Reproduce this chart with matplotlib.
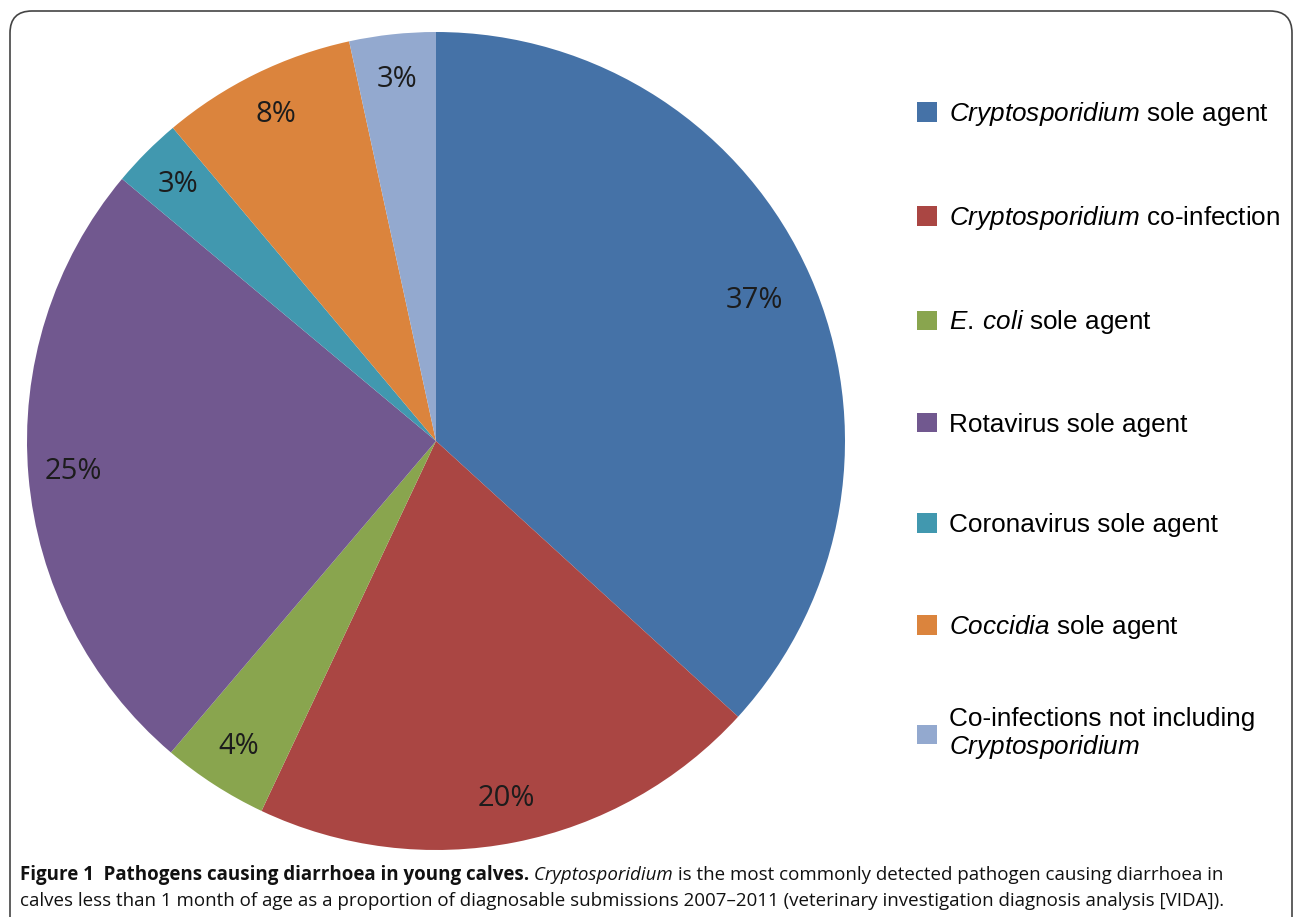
import matplotlib
matplotlib.use("Agg")
import matplotlib.pyplot as plt
import numpy as np
from matplotlib.patches import FancyBboxPatch

plt.rcParams['mathtext.fontset'] = 'custom'
plt.rcParams['mathtext.rm'] = 'Liberation Sans'
plt.rcParams['mathtext.it'] = 'Liberation Sans:italic'

# share of diagnosable submissions (%)
labels = [r'$\it{Cryptosporidium}$ sole agent',
          r'$\it{Cryptosporidium}$ co-infection',
          r'$\it{E.\:coli}$ sole agent',
          'Rotavirus sole agent',
          'Coronavirus sole agent',
          r'$\it{Coccidia}$ sole agent',
          'Co-infections not including\n' + r'$\it{Cryptosporidium}$']
values = [36.7, 20.2, 4.2, 24.8, 2.8, 7.7, 3.4]
colors = ['#4572A7', '#AA4643', '#89A54E', '#71588F', '#4198AF', '#DB843D', '#93A9CF']

caption1 = [('Figure 1  Pathogens causing diarrhoea in young calves.', 'bold', 'normal'),
            (' Cryptosporidium', 'normal', 'italic'),
            (' is the most commonly detected pathogen causing diarrhoea in', 'normal', 'normal')]
caption2 = [('calves less than 1 month of age as a proportion of diagnosable submissions '
             '2007\u20132011 (veterinary investigation diagnosis analysis [VIDA]).', 'normal', 'normal')]

W, H = 1293, 917
fig = plt.figure(figsize=(W / 100, H / 100), dpi=100)

# rounded frame, open at the bottom
frame = FancyBboxPatch((0.10, -1.0), 12.82, 10.06,
                       boxstyle='round,pad=0,rounding_size=0.22',
                       transform=fig.dpi_scale_trans, fill=False,
                       edgecolor='#444444', linewidth=1.2)
fig.patches.append(frame)

cx, cy, r = 436, 441, 409
ax = fig.add_axes([(cx - r) / W, (H - cy - r) / H, 2 * r / W, 2 * r / H])
wedges, texts, autotexts = ax.pie(values, colors=colors, startangle=90, counterclock=False,
                                  autopct='%.0f%%', pctdistance=0.89, radius=1,
                                  wedgeprops=dict(linewidth=0),
                                  textprops=dict(fontsize=21, color='#1c1c1c', family='Open Sans'))
# the big slice label sits a bit further in
th = np.deg2rad((wedges[0].theta1 + wedges[0].theta2) / 2)
autotexts[0].set_position((0.85 * np.cos(th), 0.85 * np.sin(th)))
ax.set_xlim(-1, 1)
ax.set_ylim(-1, 1)
ax.set_aspect('equal')
ax.axis('off')

legkw = dict(frameon=False, prop=dict(family='Liberation Sans', size=18.8),
             handlelength=0.77, handleheight=0.77, handletextpad=0.45,
             labelspacing=2.92, borderaxespad=0, borderpad=0)
# single-line entries, then the two-line one kept on the same pitch
fig.legend(wedges[:6], labels[:6], loc='upper left',
           bbox_to_anchor=(917 / W, 1 - 100 / H), **legkw)
leg2 = fig.legend(wedges[6:], labels[6:], loc='center left',
                  bbox_to_anchor=(917 / W, 1 - 734 / H), **legkw)
for t in leg2.get_texts():
    t.set_linespacing(1.05)

# caption with mixed weights
renderer = fig.canvas.get_renderer()
def put_line(pieces, x, y):
    for s, w, st in pieces:
        t = fig.text(x, y, s, fontsize=13.5, family='Open Sans', weight=w, style=st,
                     va='baseline', ha='left', color='#111111')
        bb = t.get_window_extent(renderer)
        x = bb.x1 / W

put_line(caption1, 20 / W, 1 - 880 / H)
put_line(caption2, 20 / W, 1 - 906 / H)

fig.savefig('out.png', dpi=100)
